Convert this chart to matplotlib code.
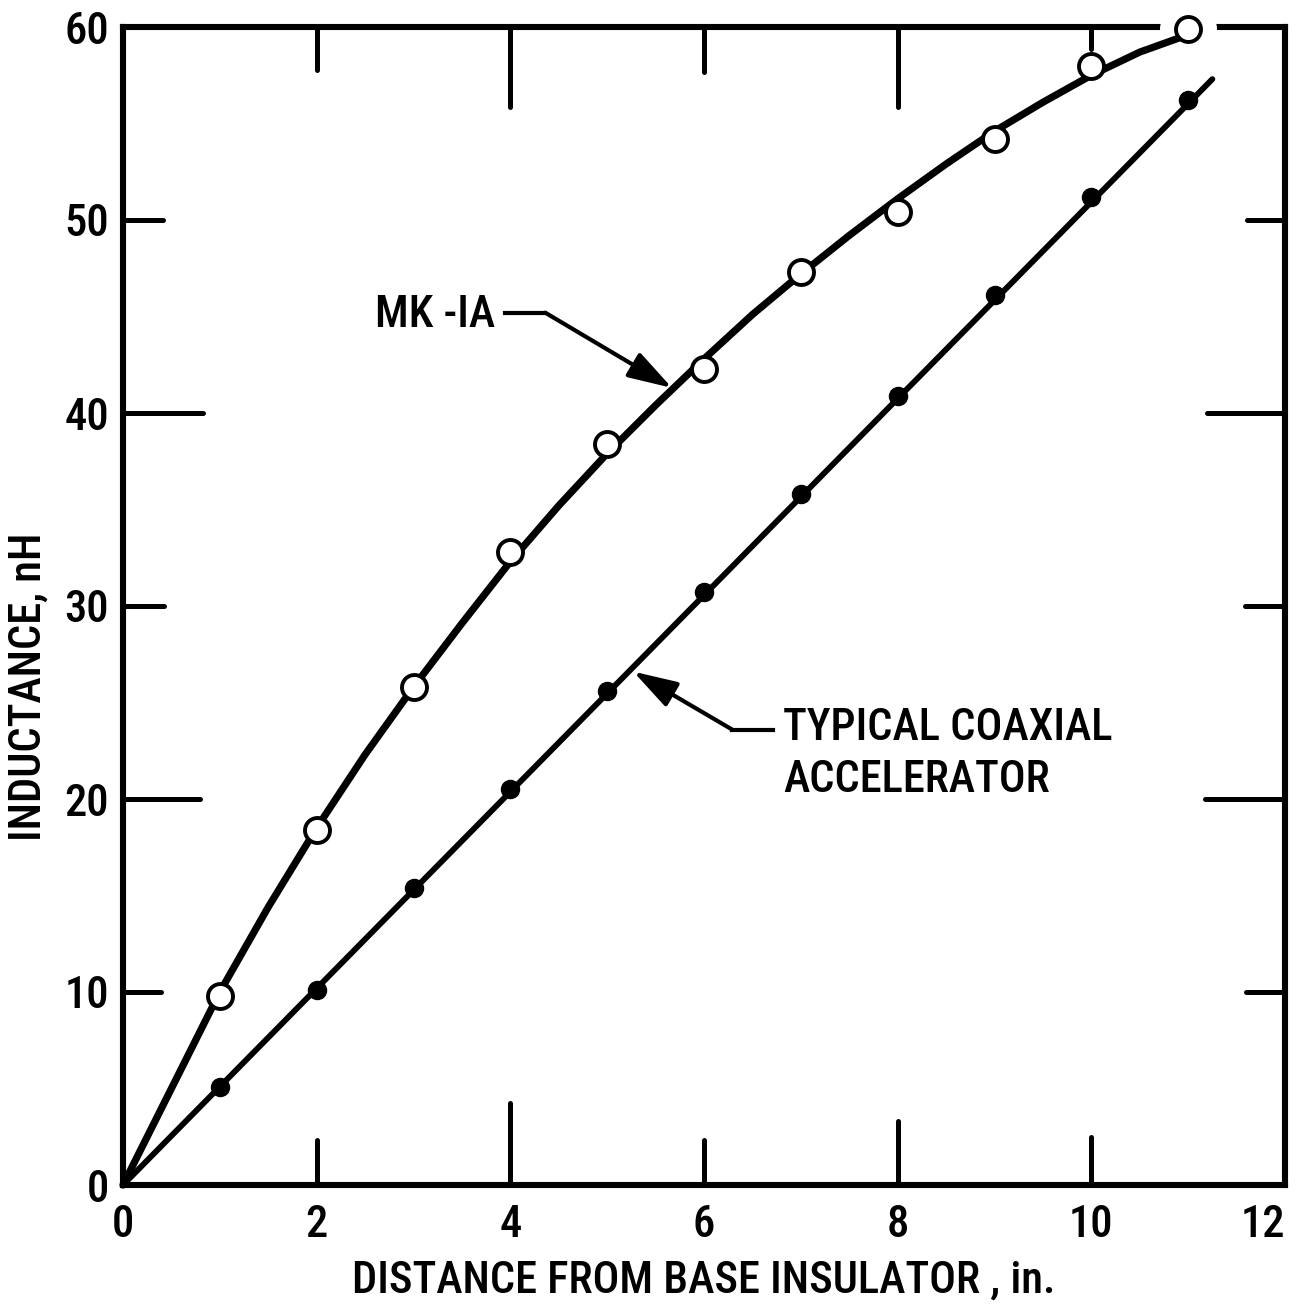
"""
Inductance vs distance from base insulator: MK-IA against a typical coaxial accelerator.
"""
import numpy as np
import matplotlib
matplotlib.use("Agg")
import matplotlib.pyplot as plt
from matplotlib import transforms
from matplotlib import font_manager as fm

# pick a narrow sans face if one is installed (lettering-guide look)
_names = {f.name for f in fm.fontManager.ttflist}
_stretch = "normal"
if "Liberation Sans Narrow" in _names:
    FONT = ["Liberation Sans Narrow", "DejaVu Sans"]
elif "Roboto Condensed" in _names:
    FONT = ["Roboto Condensed", "DejaVu Sans"]
elif any(f.name == "DejaVu Sans" and str(f.stretch) == "condensed"
         for f in fm.fontManager.ttflist):
    FONT = ["DejaVu Sans"]
    _stretch = "condensed"
else:
    FONT = ["DejaVu Sans"]

FS = 32
WT = "medium"
plt.rcParams.update({
    "font.family": FONT,
    "font.stretch": _stretch,
    "font.weight": WT,
    "axes.labelweight": WT,
    "font.size": FS,
})

# ─── Data ────────────────────────────────────────────────────────────────
MK_X = [1, 2, 3, 4, 5, 6, 7, 8, 9, 10, 11]
MK_Y = [9.8, 18.4, 25.8, 32.8, 38.4, 42.3, 47.3, 50.4, 54.2, 58.0, 59.9]

# faired curve drawn through the MK-IA points
MK_CURVE_X = [0, 1, 1.5, 2, 2.5, 3, 3.5, 4, 4.5, 5, 5.5, 6, 6.5, 7, 7.5,
              8, 8.5, 9, 9.5, 10, 10.5, 11]
MK_CURVE_Y = [0, 10.0, 14.4, 18.5, 22.3, 25.8, 29.1, 32.3, 35.2, 37.9, 40.4,
              42.8, 45.1, 47.2, 49.2, 51.1, 52.9, 54.6, 56.1, 57.5, 58.7, 59.6]

CO_X = [1, 2, 3, 4, 5, 6, 7, 8, 9, 10, 11]
CO_Y = [5.1, 10.1, 15.4, 20.5, 25.6, 30.7, 35.8, 40.9, 46.1, 51.2, 56.2]

# straight fit line for the coaxial accelerator
CO_LINE_X = [0, 11.25]
CO_LINE_Y = [0, 57.3]

X_TICKS = [0, 2, 4, 6, 8, 10, 12]
Y_TICKS = [0, 10, 20, 30, 40, 50, 60]

# inward tick lengths (pixels) as drawn on each side
TOP_TICKS = [(2, 43), (4, 80), (6, 45), (8, 80), (10, 22)]
BOT_TICKS = [(2, 45), (4, 82), (6, 45), (8, 64), (10, 48)]
LEFT_TICKS = [(10, 38), (20, 77), (30, 41), (40, 80), (50, 40)]
RIGHT_TICKS = [(10, 39), (20, 80), (30, 40), (40, 78), (50, 38)]

# ─── Plot ────────────────────────────────────────────────────────────────
W, H = 1309, 1311
fig = plt.figure(figsize=(W / 100, H / 100), dpi=100)
ax = fig.add_axes([123 / W, 1 - 1185 / H, 1162 / W, 1158 / H])
ax.set_xlim(0, 12)
ax.set_ylim(0, 60)

for sp in ax.spines.values():
    sp.set_linewidth(4.4)
    sp.set_color("black")

ax.set_xticks(X_TICKS)
ax.set_yticks(Y_TICKS)
ax.tick_params(length=0, labelsize=FS)
ax.tick_params(axis="x", pad=14)
ax.tick_params(axis="y", pad=10)
# last x label sits just inside the right border
ax.get_xticklabels()[-1].set_horizontalalignment("right")
ax.get_xticklabels()[-1].set_x(12.1)

# hand-drawn style inward ticks
px_w = 1162.0
px_h = 1158.0
tx = transforms.blended_transform_factory(ax.transData, ax.transAxes)
ty = transforms.blended_transform_factory(ax.transAxes, ax.transData)
tk = dict(color="black", lw=3.6, solid_capstyle="round", zorder=3)
for x, L in TOP_TICKS:
    ax.plot([x, x], [1, 1 - L / px_h], transform=tx, **tk)
for x, L in BOT_TICKS:
    ax.plot([x, x], [0, L / px_h], transform=tx, **tk)
for y, L in LEFT_TICKS:
    ax.plot([0, L / px_w], [y, y], transform=ty, **tk)
for y, L in RIGHT_TICKS:
    ax.plot([1, 1 - L / px_w], [y, y], transform=ty, **tk)

# white halo breaking the top border around the last MK-IA point
ax.plot(MK_X[-1:], MK_Y[-1:], "o", ms=40, mfc="white", mec="white",
        clip_on=False, zorder=3)

# curves
ax.plot(MK_CURVE_X, MK_CURVE_Y, color="black", lw=5.2, zorder=4,
        solid_capstyle="round", clip_on=False)
ax.plot(CO_LINE_X, CO_LINE_Y, color="black", lw=4.2, zorder=4,
        solid_capstyle="round", clip_on=False)

# points
ax.plot(MK_X, MK_Y, "o", ms=18, mfc="white", mec="black", mew=2.8,
        zorder=5, clip_on=False)
ax.plot(CO_X, CO_Y, "o", ms=13, mfc="black", mec="black", zorder=5,
        clip_on=False)

# leader annotations
lead = dict(color="black", lw=3.0, zorder=4)
arrow = dict(arrowstyle="-|>,head_length=0.9,head_width=0.28",
             color="black", lw=3.0, shrinkA=0, shrinkB=0, mutation_scale=30)
ax.plot([3.95, 4.36], [45.2, 45.2], **lead)
ax.annotate("", xy=(5.67, 41.3), xytext=(4.36, 45.2), arrowprops=arrow)
ax.text(3.84, 45.1, "MK -IA", ha="right", va="center", fontsize=FS)

ax.plot([6.29, 6.71], [23.6, 23.6], **lead)
ax.annotate("", xy=(5.27, 26.6), xytext=(6.29, 23.6), arrowprops=arrow)
ax.text(6.82, 23.7, "TYPICAL COAXIAL", ha="left", va="center", fontsize=FS)
ax.text(6.82, 21.0, "ACCELERATOR", ha="left", va="center", fontsize=FS)

# axis labels
ax.set_xlabel("DISTANCE FROM BASE INSULATOR , in.", fontsize=FS)
ax.xaxis.set_label_coords(0.5, -0.064)
ax.set_ylabel("INDUCTANCE, nH", fontsize=FS)
ax.yaxis.set_label_coords(-0.063, 0.43)

fig.savefig("out.png", dpi=100, facecolor="white")
plt.close(fig)
